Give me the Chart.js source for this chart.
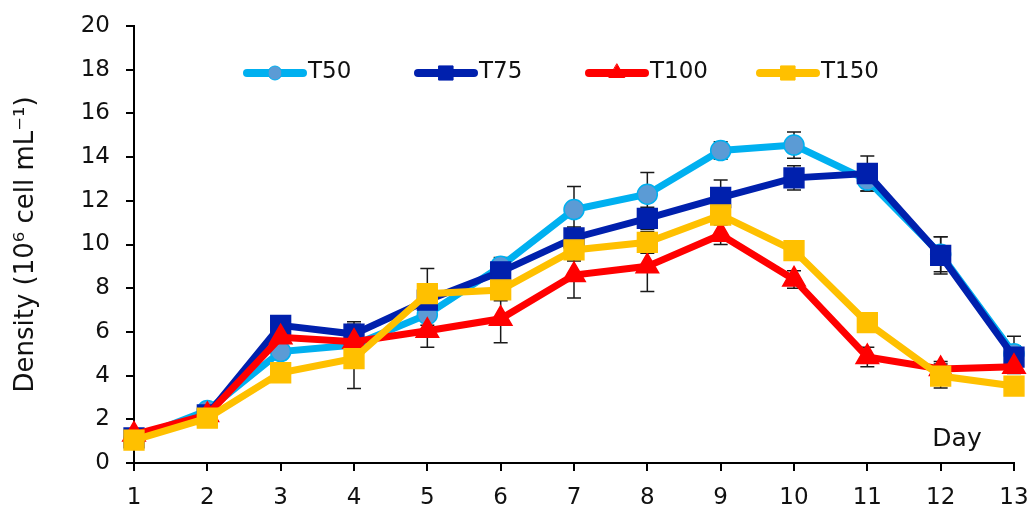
<!DOCTYPE html>
<html>
<head>
<meta charset="utf-8">
<script src="https://cdn.jsdelivr.net/npm/chart.js@4.4.1/dist/chart.umd.min.js"></script>
<style>
  html, body { margin: 0; padding: 0; background: #fff; }
  #wrap { width: 1030px; height: 506px; }
</style>
</head>
<body>
<div id="wrap"><canvas id="chart" width="1030" height="506"></canvas></div>
<script>
const days = ['1', '2', '3', '4', '5', '6', '7', '8', '9', '10', '11', '12', '13'];

const t50 = [1.1, 2.4, 5.1, 5.4, 6.8, 9.0, 11.6, 12.3, 14.3, 14.55, 12.95, 9.55, 5.0];
const t75 = [1.15, 2.2, 6.3, 5.9, 7.45, 8.75, 10.3, 11.2, 12.15, 13.05, 13.25, 9.5, 4.85];
const t100 = [1.3, 2.2, 5.75, 5.55, 6.05, 6.6, 8.6, 9.0, 10.45, 8.4, 4.85, 4.3, 4.4];
const t150 = [1.05, 2.05, 4.13, 4.78, 7.75, 7.92, 9.75, 10.1, 11.35, 9.72, 6.42, 3.98, 3.52];

// standard deviations (symmetric error bars)
const t50Err = [0.1, 0.2, 0.3, 0.8, 0.5, 0.4, 1.05, 1.0, 0.4, 0.6, 0.5, 0.8, 0.8];
const t75Err = [0.1, 0.2, 0.3, 0.57, 0.5, 0.4, 0.5, 0.5, 0.8, 0.55, 0.8, 0.85, 0.5];
const t100Err = [0.1, 0.2, 0.3, 0.8, 0.75, 1.1, 1.05, 1.15, 0.45, 0.4, 0.45, 0.35, 0.3];
const t150Err = [0.05, 0.1, 0.3, 1.37, 1.15, 0.5, 0.5, 0.5, 0.3, 0.4, 0.4, 0.55, 0.3];

const yTicks = [0, 2, 4, 6, 8, 10, 12, 14, 16, 18, 20];

const FONT = '"DejaVu Sans", Verdana, sans-serif';
const textColor = '#111';

const errorBars = {
  id: 'errorBars',
  beforeDatasetsDraw(chart) {
    const ctx = chart.ctx;
    const yScale = chart.scales.y;
    ctx.save();
    ctx.strokeStyle = '#1a1a1a';
    ctx.lineWidth = 1.5;
    chart.data.datasets.forEach((ds, i) => {
      const meta = chart.getDatasetMeta(i);
      meta.data.forEach((pt, j) => {
        const v = ds.data[j];
        const e = ds.errors[j];
        const top = yScale.getPixelForValue(v + e);
        const bot = yScale.getPixelForValue(v - e);
        ctx.beginPath();
        ctx.moveTo(pt.x, top);
        ctx.lineTo(pt.x, bot);
        ctx.moveTo(pt.x - 7, top);
        ctx.lineTo(pt.x + 7, top);
        ctx.moveTo(pt.x - 7, bot);
        ctx.lineTo(pt.x + 7, bot);
        ctx.stroke();
      });
    });
    ctx.restore();
  }
};

const legendRadius = { circle: 7, rect: 10, triangle: 9 };

const seriesLegend = {
  id: 'seriesLegend',
  afterDraw(chart) {
    const ctx = chart.ctx;
    const area = chart.chartArea;
    const y = area.top + 47;
    ctx.save();
    chart.data.datasets.forEach((ds, i) => {
      const x0 = area.left + 113 + i * 171;
      ctx.strokeStyle = ds.borderColor;
      ctx.lineWidth = 8;
      ctx.lineCap = 'round';
      ctx.beginPath();
      ctx.moveTo(x0, y);
      ctx.lineTo(x0 + 56, y);
      ctx.stroke();
      ctx.fillStyle = ds.pointBackgroundColor;
      ctx.strokeStyle = ds.pointBorderColor;
      ctx.lineWidth = 1;
      Chart.helpers.drawPoint(ctx, { pointStyle: ds.pointStyle, radius: legendRadius[ds.pointStyle], borderWidth: 1, rotation: 0 }, x0 + 28, y);
      ctx.fillStyle = textColor;
      ctx.font = '23px ' + FONT;
      ctx.textAlign = 'left';
      ctx.textBaseline = 'middle';
      ctx.fillText(ds.label, x0 + 61, y - 1);
    });
    // axis label inside the plot
    ctx.fillStyle = textColor;
    ctx.font = '25px ' + FONT;
    ctx.textAlign = 'center';
    ctx.textBaseline = 'alphabetic';
    ctx.fillText('Day', area.right - 57, area.bottom - 17);
    ctx.restore();
  }
};

function series(label, data, errors, color, markerFill, markerBorder, style, radius) {
  return {
    label: label,
    data: data,
    errors: errors,
    borderColor: color,
    borderWidth: 7,
    pointStyle: style,
    pointRadius: radius,
    pointHoverRadius: radius,
    pointBackgroundColor: markerFill,
    pointBorderColor: markerBorder,
    pointBorderWidth: 1.5,
    tension: 0,
    fill: false,
    clip: false
  };
}

const datasets = [
  series('T50', t50, t50Err, '#00B0F0', '#5B9BD5', '#00B0F0', 'circle', 10),
  series('T75', t75, t75Err, '#0020AD', '#0020AD', '#0020AD', 'rect', 14),
  series('T100', t100, t100Err, '#FF0000', '#FF0000', '#FF0000', 'triangle', 13),
  series('T150', t150, t150Err, '#FFC000', '#FFC000', '#FFC000', 'rect', 14)
];
// later series are painted on top
datasets.forEach((ds, i) => { ds.order = datasets.length - i; });

new Chart(document.getElementById('chart'), {
  type: 'line',
  data: { labels: days, datasets: datasets },
  options: {
    responsive: false,
    animation: false,
    devicePixelRatio: 1,
    layout: { padding: { top: 26, right: 16, left: 0, bottom: 0 } },
    plugins: {
      legend: { display: false },
      tooltip: { enabled: false }
    },
    scales: {
      x: {
        type: 'category',
        offset: false,
        border: { display: true, color: '#000', width: 2 },
        grid: { drawOnChartArea: false, drawTicks: true, tickLength: 8, color: '#000', lineWidth: 2, offset: false },
        ticks: { color: textColor, font: { family: FONT, size: 23 }, padding: 13, maxRotation: 0, autoSkip: false },
        afterFit(scale) {
          scale.height = 43;
          scale.paddingLeft = 0;
          scale.paddingRight = 0;
        }
      },
      y: {
        min: 0,
        max: 20,
        border: { display: true, color: '#000', width: 2 },
        grid: { drawOnChartArea: false, drawTicks: true, tickLength: 8, color: '#000', lineWidth: 2 },
        ticks: {
          stepSize: 2,
          color: textColor,
          font: { family: FONT, size: 23 },
          padding: 16
        },
        afterBuildTicks(scale) { scale.ticks = yTicks.map(v => ({ value: v })); },
        title: {
          display: true,
          text: 'Density (10\u2076 cell mL\u207B\u00B9)',
          color: textColor,
          font: { family: FONT, size: 26 },
          padding: { top: 11, bottom: 0 }
        },
        afterFit(scale) {
          scale.width = 134;
          scale.paddingTop = 0;
          scale.paddingBottom = 0;
        }
      }
    }
  },
  plugins: [errorBars, seriesLegend]
});
</script>
</body>
</html>
